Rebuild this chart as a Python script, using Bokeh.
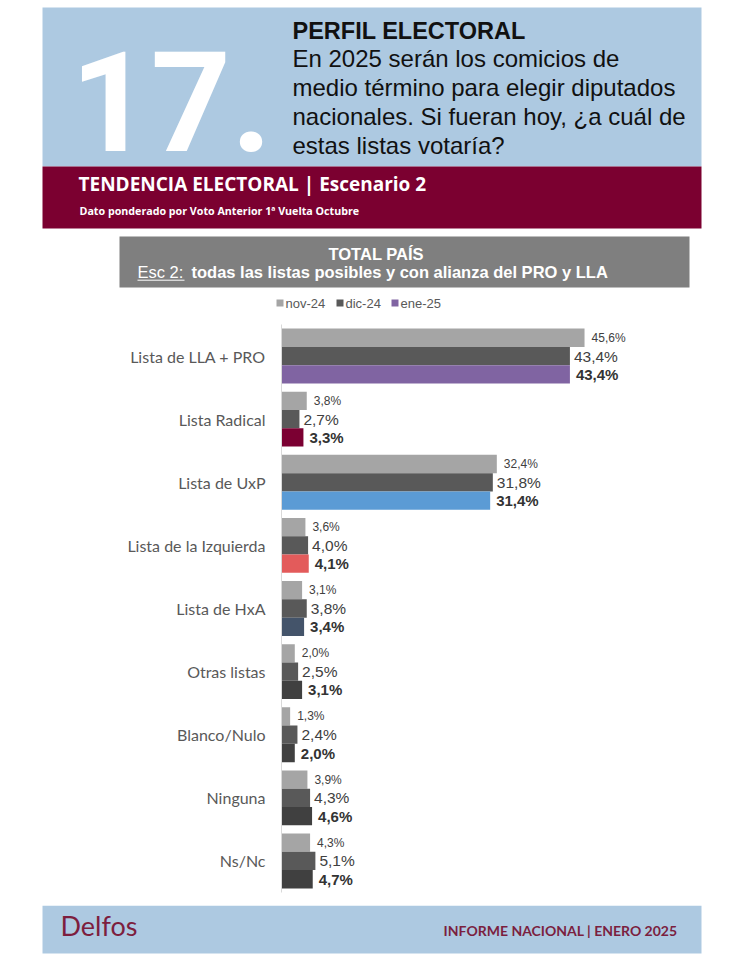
from bokeh.plotting import figure
from bokeh.models import Range1d, FactorRange, ColumnDataSource
from bokeh.transform import dodge
from bokeh.layouts import column
from bokeh.embed import file_html
from bokeh.resources import INLINE
from bokeh.core.properties import value

# ---------------- data ----------------
categories = ["Lista de LLA + PRO", "Lista Radical", "Lista de UxP", "Lista de la Izquierda",
              "Lista de HxA", "Otras listas", "Blanco/Nulo", "Ninguna", "Ns/Nc"]
nov_24 = [45.6, 3.8, 32.4, 3.6, 3.1, 2.0, 1.3, 3.9, 4.3]
dic_24 = [43.4, 2.7, 31.8, 4.0, 3.8, 2.5, 2.4, 4.3, 5.1]
ene_25 = [43.4, 3.3, 31.4, 4.1, 3.4, 3.1, 2.0, 4.6, 4.7]
series_names = ["nov-24", "dic-24", "ene-25"]

# ---------------- styles ----------------
NOV_C = "#a5a5a5"
DIC_C = "#595959"
ene_colors = ["#8064a2", "#7b0032", "#5b9bd5", "#e35b5b", "#44546a",
              "#404040", "#404040", "#404040", "#404040"]
BLUE = "#adc9e1"
MAROON = "#7b0030"
W = 744


def fmt(v):
    return f"{v:.1f}".replace(".", ",") + "%"


def txt(p, x, y, s, size, color, style="normal", font="Liberation Sans", align="left"):
    p.text(x=[x], y=[y], text=[s], text_font=value(font), text_font_size=f"{size}px",
           text_color=color, text_font_style=style, text_align=align,
           text_baseline="middle")


def deco_fig(h):
    f = figure(width=W, height=h, x_range=Range1d(0, W), y_range=Range1d(h, 0),
               x_axis_type=None, y_axis_type=None, output_backend="svg",
               toolbar_location=None, min_border=0, outline_line_color=None,
               frame_align=False)
    f.grid.visible = False
    return f


# ---------------- header ----------------
H1 = 310
hd = deco_fig(H1)
hd.quad(left=[42], right=[701], top=[7], bottom=[166], color=BLUE, line_color=None)
hd.quad(left=[42], right=[701], top=[166], bottom=[228], color=MAROON, line_color=None)
txt(hd, 70, 100, "17.", 140, "white", "bold", "Roboto")
txt(hd, 292, 30, "PERFIL ELECTORAL", 23.5, "#111111", "bold")
sub = ["En 2025 serán los comicios de", "medio término para elegir diputados",
       "nacionales. Si fueran hoy, ¿a cuál de", "estas listas votaría?"]
for i, s in enumerate(sub):
    txt(hd, 292, 58 + i * 29, s, 24, "#111111")
txt(hd, 78, 183, "TENDENCIA ELECTORAL | Escenario 2", 19, "white", "bold", "Open Sans")
txt(hd, 79, 210, "Dato ponderado por Voto Anterior 1ª Vuelta Octubre", 10.7, "white", "bold", "Open Sans")

hd.quad(left=[119], right=[689], top=[236], bottom=[287], color="#7f7f7f", line_color=None)
txt(hd, 328, 253.5, "TOTAL PAÍS", 16.5, "white", "bold")
txt(hd, 137, 271.5, "Esc 2:", 16.5, "white")
hd.segment(x0=[137], x1=[184], y0=[279.7], y1=[279.7], line_color="white", line_width=1)
txt(hd, 191, 271.5, "todas las listas posibles y con alianza del PRO y LLA", 16.5, "white", "bold")

leg_x = [276, 336, 391]
leg_c = [NOV_C, DIC_C, ene_colors[0]]
for lx, lc, nm in zip(leg_x, leg_c, series_names):
    hd.quad(left=[lx], right=[lx + 7], top=[299], bottom=[306], color=lc, line_color=None)
    txt(hd, lx + 9, 302.5, nm, 13, "#595959")

# ---------------- chart ----------------
src = ColumnDataSource(dict(
    cat=categories, nov=nov_24, dic=dic_24, ene=ene_25, ene_color=ene_colors,
    nov_lbl=[fmt(v) for v in nov_24], dic_lbl=[fmt(v) for v in dic_24],
    ene_lbl=[fmt(v) for v in ene_25]))

H2 = 595
p = figure(width=W, height=H2, y_range=FactorRange(*categories[::-1]),
           x_range=Range1d(0, 63.2), output_backend="svg", toolbar_location=None,
           min_border_left=281, min_border_right=43, min_border_top=14,
           min_border_bottom=13, outline_line_color=None, frame_align=False)
p.xaxis.visible = False
p.grid.visible = False
p.yaxis.axis_line_color = "#d9d9d9"
p.yaxis.major_tick_line_color = None
p.yaxis.minor_tick_line_color = None
p.yaxis.major_label_text_font = "Lato"
p.yaxis.major_label_text_font_size = "16px"
p.yaxis.major_label_text_color = "#595959"
p.yaxis.major_label_standoff = 10

BH = 0.29
offs = [BH, 0.0, -BH]
p.hbar(y=dodge("cat", offs[0], range=p.y_range), left=0, right="nov", height=BH,
       color=NOV_C, line_color=None, source=src)
p.hbar(y=dodge("cat", offs[1], range=p.y_range), left=0, right="dic", height=BH,
       color=DIC_C, line_color=None, source=src)
p.hbar(y=dodge("cat", offs[2], range=p.y_range), left=0, right="ene", height=BH,
       fill_color="ene_color", line_color=None, source=src)

p.text(x="nov", y=dodge("cat", offs[0], range=p.y_range), text="nov_lbl", source=src,
       x_offset=7, text_baseline="middle", text_font=value("Liberation Sans"),
       text_font_size="12px", text_color="#404040")
p.text(x="dic", y=dodge("cat", offs[1], range=p.y_range), text="dic_lbl", source=src,
       x_offset=4, text_baseline="middle", text_font=value("Liberation Sans"),
       text_font_size="15.5px", text_color="#404040")
p.text(x="ene", y=dodge("cat", offs[2], range=p.y_range), text="ene_lbl", source=src,
       x_offset=6, text_baseline="middle", text_font=value("Liberation Sans"),
       text_font_size="15px", text_color="#333333", text_font_style="bold")

# ---------------- footer ----------------
H3 = 960 - H1 - H2
ft = deco_fig(H3)
ft.quad(left=[42], right=[701], top=[0], bottom=[48], color=BLUE, line_color=None)
txt(ft, 60, 20, "Delfos", 27, "#7d1e3e", "normal", "Lato")
txt(ft, 677, 25, "INFORME NACIONAL | ENERO 2025", 14, "#7b1f3f", "bold", "Lato", align="right")

layout = column(hd, p, ft, spacing=0)
open("out.html", "w").write(file_html(layout, INLINE))
